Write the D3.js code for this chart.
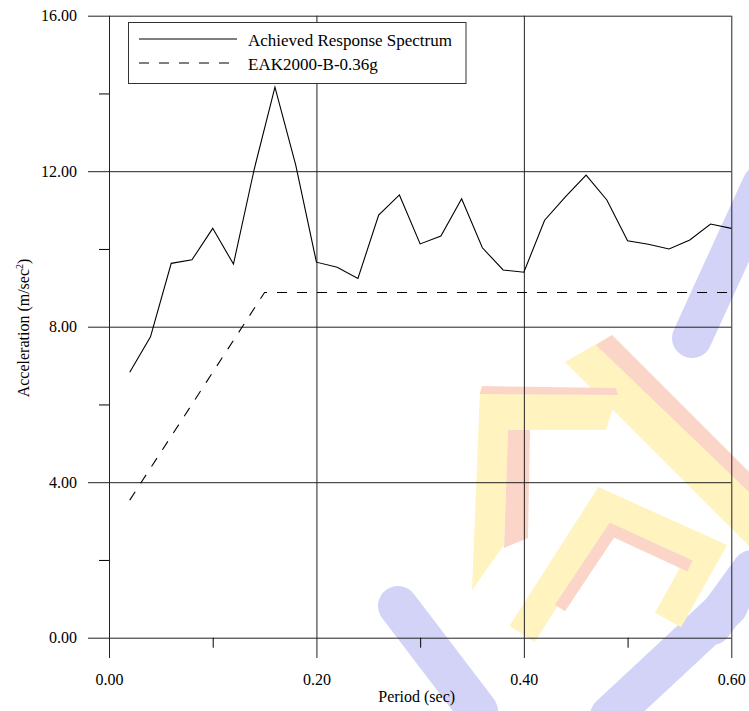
<!DOCTYPE html>
<html>
<head>
<meta charset="utf-8">
<script src="https://cdn.jsdelivr.net/npm/d3@7"></script>
<style>
  body { margin: 0; background: #fff; }
</style>
</head>
<body>
<div id="container"></div>
<script>
// periods (sec) and achieved spectrum (m/sec2)
var periods = [0.02, 0.04, 0.06, 0.08, 0.10, 0.12, 0.14, 0.16, 0.18, 0.20,
               0.22, 0.24, 0.26, 0.28, 0.30, 0.32, 0.34, 0.36, 0.38, 0.40,
               0.42, 0.44, 0.46, 0.48, 0.50, 0.52, 0.54, 0.56, 0.58, 0.60];
var achieved = [6.83, 7.74, 9.63, 9.72, 10.53, 9.61, 12.05, 14.16, 12.16, 9.66,
                9.53, 9.24, 10.87, 11.39, 10.13, 10.33, 11.29, 10.03, 9.46, 9.40,
                10.74, 11.34, 11.90, 11.26, 10.21, 10.12, 10.00, 10.23, 10.64, 10.53];
// design spectrum
var codePeriods = [0.02, 0.15, 0.60];
var codeValues = [3.54, 8.88, 8.88];

var seriesNames = ["Achieved Response Spectrum", "EAK2000-B-0.36g"];
var xTicks = [0, 0.2, 0.4, 0.6];
var xMinor = [0.1, 0.3, 0.5];
var yTicks = [0, 4, 8, 12, 16];
var yMinor = [2, 6, 10, 14];

var serif = "'Liberation Serif', 'Times New Roman', serif";

function makeChart(){
	var w = 749, h = 711;

	var svg = d3.select("#container")
		.append("svg")
		.attr("width", w)
		.attr("height", h)
		.attr("font-family", serif);

	var x = d3.scaleLinear().domain([0, 0.6]).range([109, 731.3]);
	var y = d3.scaleLinear().domain([0, 16]).range([637.7, 15.7]);

	//faint logo watermark behind the chart (decoration only)
	var wm = svg.append("g").attr("class", "watermark");
	var red = "#fbd6c8", yel = "#fff3c0", blu = "#d3d3f8";
	var bluLines = [
		[[762,185],[692,338]],
		[[398,606],[478,711]],
		[[610,716],[728,606]],
		[[752,570],[712,625]]
	];
	bluLines.forEach(function(p){
		wm.append("path").attr("d", d3.line()(p)).attr("fill", "none").attr("stroke", blu)
			.attr("stroke-width", 40).attr("stroke-linecap", "round");
	});
	var yelShapes = [
		[[480,390],[618,392],[606,430],[508,430],[504,545],[472,590]],
		[[565,362],[612,335],[749,472],[749,546]]
	];
	var redShapes = [
		[[508,430],[530,430],[528,538],[504,548]],
		[[596,345],[612,335],[749,472],[749,492]],
		[[482,386],[616,388],[618,395],[480,394]]
	];
	yelShapes.forEach(function(p){
		wm.append("path").attr("d", d3.line()(p) + "Z").attr("fill", yel);
	});
	redShapes.forEach(function(p){
		wm.append("path").attr("d", d3.line()(p) + "Z").attr("fill", red);
	});
	wm.append("path").attr("d", d3.line()([[522,634],[604,506],[706,552],[668,620]]))
		.attr("fill", "none").attr("stroke", yel).attr("stroke-width", 30);
	wm.append("path").attr("d", d3.line()([[560,608],[612,530],[690,566]]))
		.attr("fill", "none").attr("stroke", red).attr("stroke-width", 12);

	//y axis: gridlines across the plot plus ticks and labels
	var yAxis = svg.append("g")
		.attr("transform", "translate(" + x(0.6) + ",0)")
		.call(d3.axisLeft(y).tickValues(yTicks).tickSize(x(0.6) - 88).tickPadding(11)
			.tickFormat(d3.format(".2f")))
		.attr("font-family", serif)
		.attr("font-size", 16);
	yAxis.select(".domain").remove();
	yAxis.selectAll("line").attr("stroke", "#222");

	svg.append("g")
		.attr("transform", "translate(" + x(0) + ",0)")
		.call(d3.axisLeft(y).tickValues(yMinor).tickSize(10).tickFormat(""))
		.call(function(g){ g.select(".domain").remove(); });

	//x axis: verticals from the top to below the zero line
	var xAxis = svg.append("g")
		.attr("transform", "translate(0," + y(16) + ")")
		.call(d3.axisBottom(x).tickValues(xTicks).tickSize(658 - y(16)).tickPadding(15.6)
			.tickFormat(d3.format(".2f")))
		.attr("font-family", serif)
		.attr("font-size", 16);
	xAxis.select(".domain").remove();
	xAxis.selectAll("line").attr("stroke", "#222");

	svg.append("g")
		.attr("transform", "translate(0," + y(0) + ")")
		.call(d3.axisBottom(x).tickValues(xMinor).tickSize(10).tickFormat(""))
		.call(function(g){ g.select(".domain").remove(); });

	//axis titles
	svg.append("text")
		.attr("x", 416.7)
		.attr("y", 702)
		.attr("text-anchor", "middle")
		.attr("font-size", 16)
		.text("Period (sec)");

	var yt = svg.append("text")
		.attr("transform", "translate(23,328) rotate(-90)")
		.attr("text-anchor", "middle")
		.attr("dy", "0.35em")
		.attr("font-size", 16);
	yt.append("tspan").text("Acceleration (m/sec");
	yt.append("tspan").attr("font-size", 10).attr("dy", "-6").text("2");
	yt.append("tspan").attr("dy", "6").text(")");

	//the two spectra
	var line = d3.line()
		.x(function(d){ return x(d[0]); })
		.y(function(d){ return y(d[1]); });

	svg.append("path")
		.datum(d3.zip(periods, achieved))
		.attr("d", line)
		.attr("fill", "none")
		.attr("stroke", "#000")
		.attr("stroke-width", 1.1);

	svg.append("path")
		.datum(d3.zip(codePeriods, codeValues))
		.attr("d", line)
		.attr("fill", "none")
		.attr("stroke", "#000")
		.attr("stroke-width", 1.1)
		.attr("stroke-dasharray", "10,10");

	//legend
	var leg = svg.append("g").attr("class", "legend");
	leg.append("rect")
		.attr("x", 128.5).attr("y", 22.5)
		.attr("width", 337.5).attr("height", 61)
		.attr("fill", "#fff")
		.attr("stroke", "#333");
	leg.selectAll("line")
		.data(seriesNames)
		.enter()
		.append("line")
		.attr("x1", 139).attr("x2", 237)
		.attr("y1", function(d, i){ return 39 + i*24; })
		.attr("y2", function(d, i){ return 39 + i*24; })
		.attr("stroke", "#000")
		.attr("stroke-width", 1.1)
		.attr("stroke-dasharray", function(d, i){ return i ? "10,10" : null; });
	leg.selectAll("text")
		.data(seriesNames)
		.enter()
		.append("text")
		.attr("x", 248)
		.attr("y", function(d, i){ return 45.5 + i*24; })
		.attr("font-size", 17)
		.text(function(d){ return d; });
}

makeChart();
</script>
</body>
</html>
